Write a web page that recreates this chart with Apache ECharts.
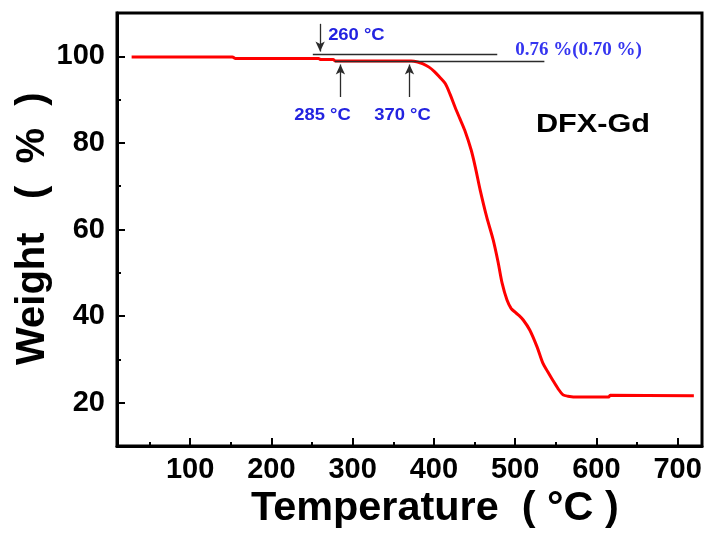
<!DOCTYPE html>
<html>
<head>
<meta charset="utf-8">
<script src="https://cdn.jsdelivr.net/npm/echarts@6/dist/echarts.min.js"></script>
<style>
  html, body { margin: 0; padding: 0; background: #ffffff; }
  #chart { width: 708px; height: 535px; }
</style>
</head>
<body>
<div id="chart"></div>
<script>
// TGA curve of DFX-Gd: temperature (°C) and residual weight (%)
const temperature = [28, 152, 156, 258, 261, 276, 279, 372, 380, 386, 394, 401, 407, 414, 420, 426, 432, 438, 446, 451, 457, 465, 473, 479, 484, 490, 495, 500, 505, 510, 518, 527, 534, 540, 546, 553, 559, 565, 577, 615, 617, 720];
const weight      = [99.85, 99.85, 99.47, 99.47, 99.24, 99.24, 98.92, 98.92, 98.7, 98.3, 97.5, 96.4, 95.2, 93.7, 91.2, 88.3, 85.6, 82.9, 78.3, 74.4, 69.1, 62.9, 57.6, 52.5, 47.6, 43.7, 41.8, 40.9, 40.1, 39.1, 36.8, 32.9, 29.2, 27.2, 25.3, 23.2, 21.8, 21.5, 21.3, 21.3, 21.7, 21.6];

// Axis ticks
const xTicks      = [100, 200, 300, 400, 500, 600, 700];
const xMinorTicks = [50, 150, 250, 350, 450, 550, 650];
const yTicks      = [20, 40, 60, 80, 100];
const yMinorTicks = [30, 50, 70, 90];

// Onset temperatures marked with arrows, and the weight levels the arrows span
const onsetTemps  = [260, 285, 370];
const onsetLabels = ['260 °C', '285 °C', '370 °C'];
const arrowFrom   = [107.5, 90.6, 90.6];
const arrowTo     = [101.1, 98.1, 98.1];

// Horizontal guide lines bracketing the early weight loss
const guideStart  = [251, 278];
const guideEnd    = [478, 536];
const guideLevel  = [100.45, 98.9];
const lossLabel   = '0.76 %(0.70 %)';
const sampleName  = 'DFX-Gd';

const FONT = '"Liberation Sans", Arial, Helvetica, sans-serif';
const SERIF = '"Liberation Serif", "Times New Roman", serif';
const X_MIN = 10, X_MAX = 730, Y_MIN = 10, Y_MAX = 110;

const chart = echarts.init(document.getElementById('chart'), null, { renderer: 'canvas' });

function xAxis(ticks, len, withLabels) {
  return {
    type: 'value', min: X_MIN, max: X_MAX, position: 'bottom',
    axisLine: { show: withLabels, onZero: false, lineStyle: { color: '#000', width: 3 } },
    axisTick: { show: true, inside: true, length: len, customValues: ticks, lineStyle: { color: '#000', width: 2 } },
    axisLabel: { show: withLabels, customValues: ticks, margin: 9, color: '#000', fontSize: 29, fontWeight: 'bold', fontFamily: FONT },
    splitLine: { show: false }
  };
}
function yAxis(ticks, len, withLabels) {
  return {
    type: 'value', min: Y_MIN, max: Y_MAX, position: 'left',
    axisLine: { show: withLabels, onZero: false, lineStyle: { color: '#000', width: 3 } },
    axisTick: { show: true, inside: true, length: len, customValues: ticks, lineStyle: { color: '#000', width: 2 } },
    axisLabel: { show: withLabels, customValues: ticks, margin: 12, color: '#000', fontSize: 29, fontWeight: 'bold', fontFamily: FONT },
    splitLine: { show: false }
  };
}

const markData = [];
for (let i = 0; i < guideLevel.length; i++) {
  markData.push([
    { coord: [guideStart[i], guideLevel[i]], symbol: 'none' },
    { coord: [guideEnd[i], guideLevel[i]], symbol: 'none' }
  ]);
}
for (let i = 0; i < onsetTemps.length; i++) {
  markData.push([
    { coord: [onsetTemps[i], arrowFrom[i]], symbol: 'none' },
    { coord: [onsetTemps[i], arrowTo[i]], symbol: 'arrow', symbolSize: [7, 10] }
  ]);
}

chart.setOption({
  animation: false,
  backgroundColor: '#ffffff',
  grid: { left: 117, right: 6, top: 13, bottom: 89, show: true, borderColor: '#000', borderWidth: 3, backgroundColor: 'transparent' },
  xAxis: [xAxis(xTicks, 8, true), xAxis(xMinorTicks, 4, false)],
  yAxis: [yAxis(yTicks, 8, true), yAxis(yMinorTicks, 4, false)],
  series: [{
    type: 'line',
    xAxisIndex: 0, yAxisIndex: 0,
    data: temperature.map((t, i) => [t, weight[i]]),
    showSymbol: false,
    smooth: 0.3,
    lineStyle: { color: '#ff0000', width: 3 },
    z: 3,
    markLine: {
      silent: true, animation: false,
      symbol: ['none', 'none'],
      label: { show: false },
      lineStyle: { color: '#2b2b2b', width: 1.3, type: 'solid' },
      emphasis: { disabled: true },
      data: markData
    }
  }]
});

// Annotation texts, anchored to the data positions of the marks they describe
const px = (t, w) => chart.convertToPixel({ xAxisIndex: 0, yAxisIndex: 0 }, [t, w]);
const blue = '#2323e0';
const texts = [];
const a0 = px(onsetTemps[0], arrowFrom[0]);
texts.push({ x: a0[0] + 8, y: a0[1] + 12, text: onsetLabels[0], align: 'left' });
const a1 = px(onsetTemps[1], arrowFrom[1]);
texts.push({ x: a1[0] - 18, y: a1[1] + 19, text: onsetLabels[1], align: 'center' });
const a2 = px(onsetTemps[2], arrowFrom[2]);
texts.push({ x: a2[0] - 7, y: a2[1] + 19, text: onsetLabels[2], align: 'center' });

const graphics = texts.map(t => ({
  type: 'text', x: t.x, y: t.y, scaleX: 1.15, silent: true,
  style: { text: t.text, fill: blue, font: 'bold 16px ' + FONT, textAlign: t.align, textVerticalAlign: 'middle' }
}));

const g0 = px(guideEnd[0], guideLevel[0]);
graphics.push({
  type: 'text', x: g0[0] + 18, y: g0[1] - 4, silent: true,
  style: { text: lossLabel, fill: '#3535f0', font: 'bold 19px ' + SERIF, textAlign: 'left', textVerticalAlign: 'middle' }
});
graphics.push({
  type: 'text', x: 593, y: 125, scaleX: 1.18, silent: true,
  style: { text: sampleName, fill: '#000', font: 'bold 26px ' + FONT, textAlign: 'center', textVerticalAlign: 'middle' }
});
// Axis titles
graphics.push({
  type: 'text', x: 251, y: 509, scaleX: 1.035, silent: true,
  style: { text: 'Temperature  ( °C )', fill: '#000', font: 'bold 40px ' + FONT, textAlign: 'left', textVerticalAlign: 'middle' }
});
graphics.push({
  type: 'text', x: 33, y: 365, rotation: Math.PI / 2, silent: true,
  style: { text: 'Weight   (  %  )', fill: '#000', font: 'bold 40px ' + FONT, textAlign: 'left', textVerticalAlign: 'middle' }
});

chart.setOption({ graphic: graphics });
</script>
</body>
</html>
